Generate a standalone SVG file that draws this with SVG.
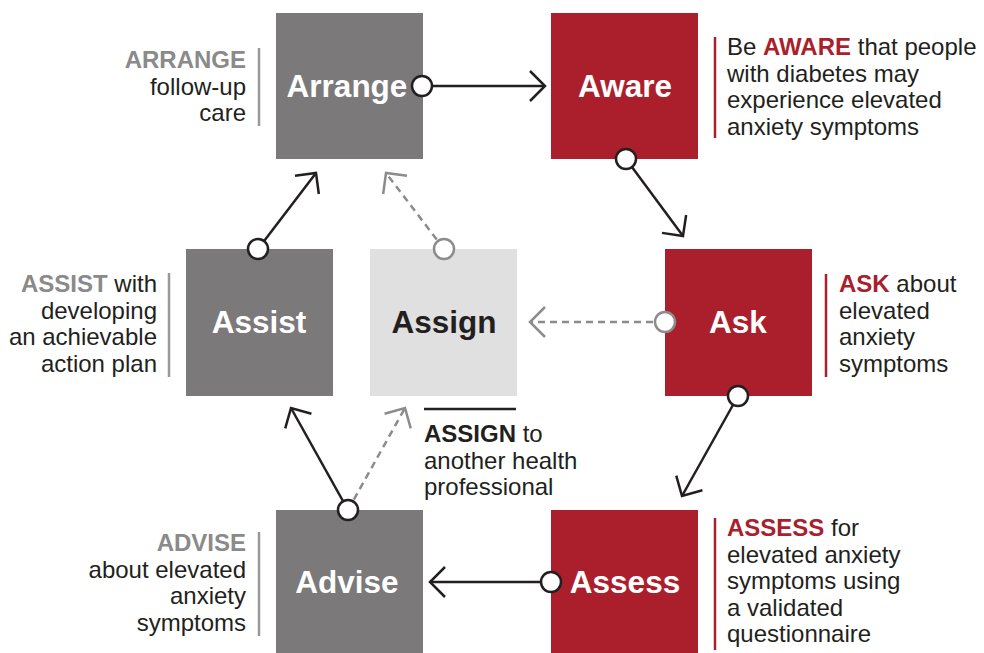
<svg xmlns="http://www.w3.org/2000/svg" width="984" height="653" viewBox="0 0 984 653">
<style>
.box-red{fill:#ab1f2d}
.box-grey{fill:#7b797a}
.box-light{fill:#e0e0e0}
.lbl{font-family:"Liberation Sans",Arial,sans-serif;font-weight:bold;font-size:31.5px;text-anchor:middle}
.w{fill:#ffffff}
.d{fill:#231f20}
.t{font-family:"Liberation Sans",Arial,sans-serif;font-size:24px;fill:#231f20}
.rb{fill:#ab1f2d;font-weight:bold}
.gb{fill:#8a8a8a;font-weight:bold}
.db{fill:#231f20;font-weight:bold}
.end{text-anchor:end}
.conn{stroke:#231f20;stroke-width:2.5;fill:none}
.dash{stroke:#8c8c8c;stroke-width:2.5;fill:none;stroke-dasharray:7 5}
.dot{fill:#ffffff;stroke:#231f20;stroke-width:2.5}
.dotg{fill:#ffffff;stroke:#8c8c8c;stroke-width:2.5}
.barr{stroke:#ab1f2d;stroke-width:2.5}
.barg{stroke:#999999;stroke-width:2.5}
</style>
<defs>
<marker id="ah" markerUnits="userSpaceOnUse" markerWidth="40" markerHeight="40" refX="0" refY="0" orient="auto" overflow="visible">
<path d="M-15,-15 L0,0 L-15,15" fill="none" stroke="#231f20" stroke-width="2.5"/>
</marker>
<marker id="ahg" markerUnits="userSpaceOnUse" markerWidth="40" markerHeight="40" refX="0" refY="0" orient="auto" overflow="visible">
<path d="M-15,-15 L0,0 L-15,15" fill="none" stroke="#8c8c8c" stroke-width="2.5"/>
</marker>
</defs>
<rect width="984" height="653" fill="#ffffff"/>

<g id="arrange">
<rect class="box-grey" x="276" y="13" width="147" height="146"/>
<text class="lbl w" x="347" y="97">Arrange</text>
<line class="barg" x1="259" y1="48" x2="259" y2="126"/>
<text class="t end" x="246" y="68"><tspan class="gb">ARRANGE</tspan><tspan x="246" dy="26.5">follow-up</tspan><tspan x="246" dy="26.5">care</tspan></text>
</g>

<g id="aware">
<rect class="box-red" x="551" y="13" width="147" height="146"/>
<text class="lbl w" x="625" y="97">Aware</text>
<line class="barr" x1="715" y1="37" x2="715" y2="138"/>
<text class="t" x="727" y="55">Be <tspan class="rb">AWARE</tspan> that people<tspan x="727" dy="26.5">with diabetes may</tspan><tspan x="727" dy="26.5">experience elevated</tspan><tspan x="727" dy="26.5">anxiety symptoms</tspan></text>
</g>

<g id="assist">
<rect class="box-grey" x="186" y="249" width="147" height="147"/>
<text class="lbl w" x="259" y="333">Assist</text>
<line class="barg" x1="169" y1="273" x2="169" y2="377"/>
<text class="t end" x="157" y="292"><tspan class="gb">ASSIST</tspan> with<tspan x="157" dy="26.5">developing</tspan><tspan x="157" dy="26.5">an achievable</tspan><tspan x="157" dy="26.5">action plan</tspan></text>
</g>

<g id="assign">
<rect class="box-light" x="370" y="249" width="147" height="147"/>
<text class="lbl d" x="444" y="333">Assign</text>
<line x1="424" y1="409" x2="516" y2="409" stroke="#231f20" stroke-width="2.5"/>
<text class="t" x="424" y="442"><tspan class="db">ASSIGN</tspan> to<tspan x="424" dy="26.5">another health</tspan><tspan x="424" dy="26.5">professional</tspan></text>
</g>

<g id="ask">
<rect class="box-red" x="665" y="249" width="147" height="147"/>
<text class="lbl w" x="738" y="333">Ask</text>
<line class="barr" x1="826" y1="274" x2="826" y2="377"/>
<text class="t" x="839" y="292"><tspan class="rb">ASK</tspan> about<tspan x="839" dy="26.5">elevated</tspan><tspan x="839" dy="26.5">anxiety</tspan><tspan x="839" dy="26.5">symptoms</tspan></text>
</g>

<g id="advise">
<rect class="box-grey" x="276" y="510" width="147" height="143"/>
<text class="lbl w" x="347" y="593">Advise</text>
<line class="barg" x1="259" y1="532" x2="259" y2="636"/>
<text class="t end" x="246" y="551"><tspan class="gb">ADVISE</tspan><tspan x="246" dy="26.5">about elevated</tspan><tspan x="246" dy="26.5">anxiety</tspan><tspan x="246" dy="26.5">symptoms</tspan></text>
</g>

<g id="assess">
<rect class="box-red" x="551" y="510" width="147" height="143"/>
<text class="lbl w" x="625" y="593">Assess</text>
<line class="barr" x1="715" y1="518" x2="715" y2="650"/>
<text class="t" x="727" y="536"><tspan class="rb">ASSESS</tspan> for<tspan x="727" dy="26.5">elevated anxiety</tspan><tspan x="727" dy="26.5">symptoms using</tspan><tspan x="727" dy="26.5">a validated</tspan><tspan x="727" dy="26.5">questionnaire</tspan></text>
</g>

<g id="connectors">
<line class="conn" x1="422" y1="86" x2="545" y2="86" marker-end="url(#ah)"/>
<line class="conn" x1="626" y1="159" x2="683" y2="236" marker-end="url(#ah)"/>
<line class="conn" x1="738" y1="396" x2="682" y2="496" marker-end="url(#ah)"/>
<line class="conn" x1="551" y1="582" x2="430" y2="582" marker-end="url(#ah)"/>
<line class="conn" x1="348" y1="510" x2="291" y2="408" marker-end="url(#ah)"/>
<line class="dash" x1="348" y1="510" x2="405" y2="408" marker-end="url(#ahg)"/>
<line class="conn" x1="258" y1="249" x2="316" y2="173" marker-end="url(#ah)"/>
<line class="dash" x1="444" y1="249" x2="386" y2="173" marker-end="url(#ahg)"/>
<line class="dash" x1="665" y1="322" x2="530" y2="322" marker-end="url(#ahg)"/>
<circle class="dot" cx="422" cy="86" r="10"/>
<circle class="dot" cx="626" cy="159" r="10"/>
<circle class="dot" cx="738" cy="396" r="10"/>
<circle class="dot" cx="551" cy="582" r="10"/>
<circle class="dot" cx="348" cy="510" r="10"/>
<circle class="dot" cx="258" cy="249" r="10"/>
<circle class="dotg" cx="444" cy="249" r="10"/>
<circle class="dotg" cx="665" cy="322" r="10"/>
</g>
</svg>
